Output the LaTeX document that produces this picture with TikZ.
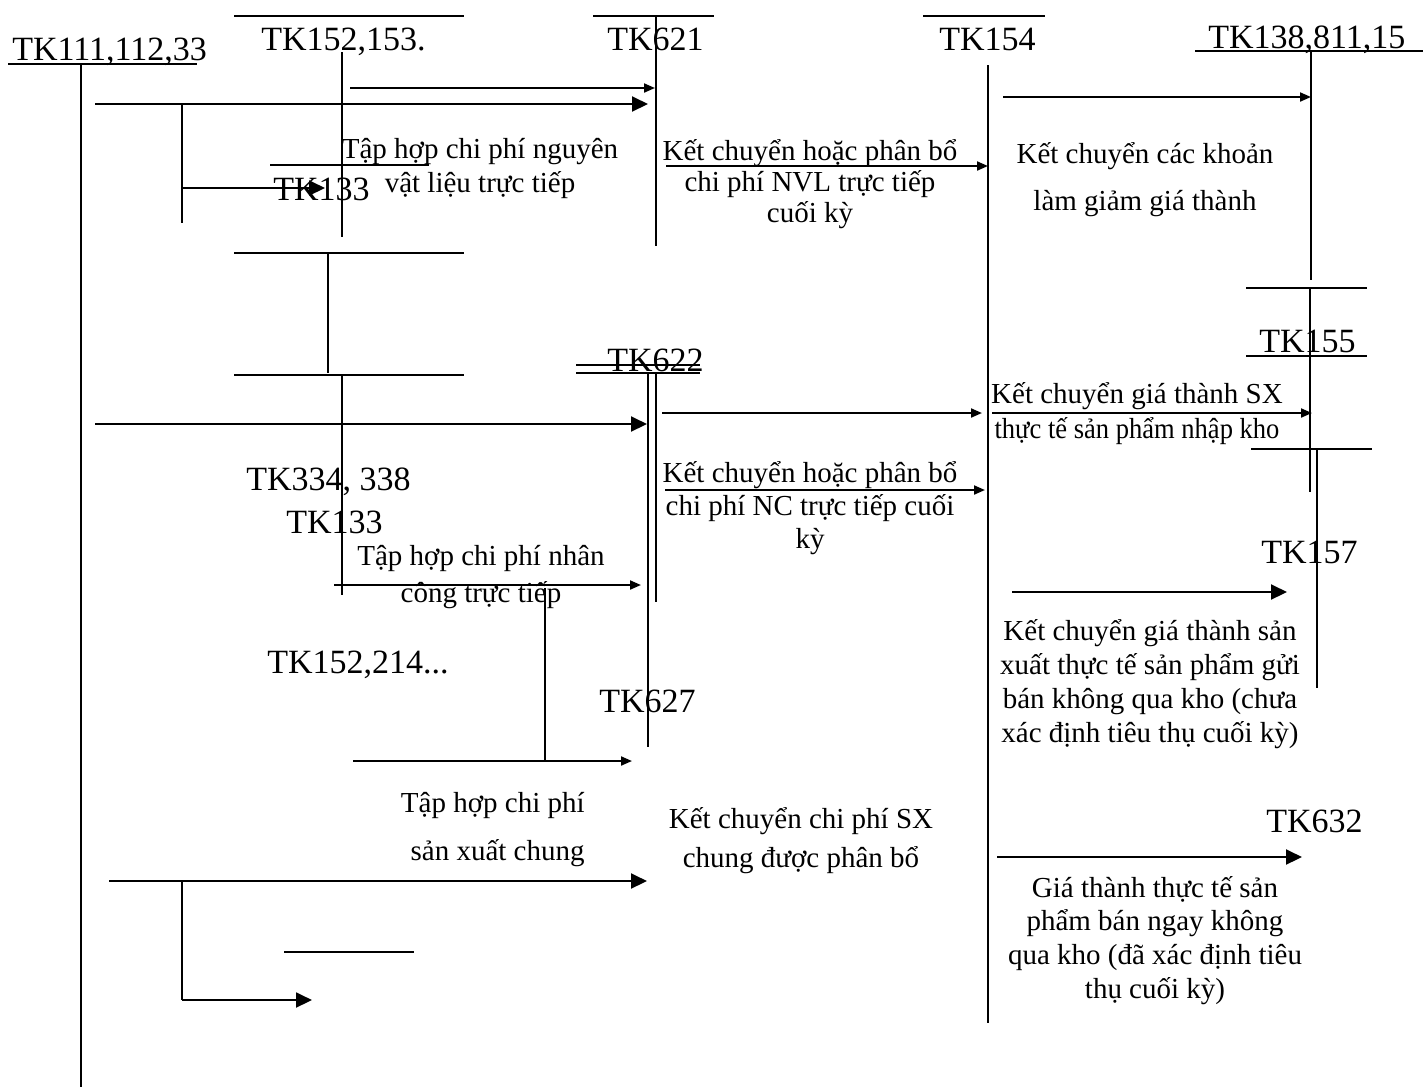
\documentclass[tikz,border=0pt]{standalone}
\usepackage{fontspec}
\usepackage{graphicx}
\setmainfont{Liberation Serif}
\usetikzlibrary{arrows.meta}

\begin{document}
\begin{tikzpicture}[
            x=0.5pt, y=-0.5pt,
            tline/.style={line width=1pt},
            big_arrow/.style={line width=1pt, -{Triangle[length=8pt, width=7.5pt]}},
            small_arrow/.style={line width=1pt, -{Triangle[length=5.5pt, width=4.5pt]}},
            tk_style/.style={font=\fontsize{17}{19}\selectfont, inner sep=0pt, anchor=base west},
            note_style/.style={font=\fontsize{14.5}{#1}\selectfont, align=center, inner sep=0pt, anchor=base},
            note_style/.default=17
        ]
        \useasboundingbox (0,0) rectangle (1423,1089);

        % Tên tài khoản
        \node (tk111) [tk_style] at (12,60) {TK111,112,33};
        \node (tk152) [tk_style] at (261,50) {TK152,153.};
        \node (tk621) [tk_style] at (607,50) {TK621};
        \node (tk154) [tk_style] at (939,50) {TK154};
        \node (tk138) [tk_style] at (1208,48) {TK138,811,15};
        \node (tk133a) [tk_style] at (273,200) {TK133};
        \node (tk155) [tk_style] at (1259,352) {TK155};
        \node (tk622) [tk_style] at (607,371) {TK622};
        \node (tk334) [tk_style] at (246,490) {TK334, 338};
        \node (tk133b) [tk_style] at (286,533) {TK133};
        \node (tk157) [tk_style] at (1261,563) {TK157};
        \node (tk152b) [tk_style] at (267,673) {TK152,214...};
        \node (tk627) [tk_style] at (599,712) {TK627};
        \node (tk632) [tk_style] at (1266,832) {TK632};

        % Chữ T của các tài khoản
        \draw [tline] (8,64) -- (197,64) (81,64) -- (81,1087);
        \draw [tline] (234,16) -- (464,16) (342,52) -- (342,237);
        \draw [tline] (593,16) -- (714,16) (656,16) -- (656,246);
        \draw [tline] (923,16) -- (1045,16) (988,65) -- (988,1023);
        \draw [tline] (1195,51) -- (1423,51) (1311,51) -- (1311,280);
        \draw [tline] (270,165) -- (429,165);
        \draw [tline] (234,253) -- (464,253) (328,253) -- (328,373);
        \draw [tline] (234,375) -- (464,375) (342,375) -- (342,595);
        \draw [tline] (576,365) -- (700,365) (576,373) -- (700,373);
        \draw [tline] (648,373) -- (648,747) (656,373) -- (656,602);
        \draw [tline] (1246,288) -- (1367,288) (1246,356) -- (1367,356) (1310,288) -- (1310,492);
        \draw [tline] (1251,449) -- (1372,449) (1317,449) -- (1317,688);
        \draw [tline] (545,588) -- (545,761);
        \draw [tline] (284,952) -- (414,952);
        \draw [tline] (182,104) -- (182,223);
        \draw [tline] (182,881) -- (182,1000);

        % Điểm đầu, điểm cuối các bút toán
        \coordinate (a1s) at (350,88);   \coordinate (a1e) at (655,88);
        \coordinate (a2s) at (95,104);   \coordinate (a2e) at (648,104);
        \coordinate (a3s) at (182,188);  \coordinate (a3e) at (325,188);
        \coordinate (a4s) at (1003,97);  \coordinate (a4e) at (1311,97);
        \coordinate (a5s) at (666,166);  \coordinate (a5e) at (988,166);
        \coordinate (a6s) at (95,424);   \coordinate (a6e) at (647,424);
        \coordinate (a7s) at (662,413);  \coordinate (a7e) at (982,413);
        \coordinate (a8s) at (992,413);  \coordinate (a8e) at (1312,413);
        \coordinate (a9s) at (665,490);  \coordinate (a9e) at (985,490);
        \coordinate (a10s) at (334,585); \coordinate (a10e) at (641,585);
        \coordinate (a11s) at (1012,592); \coordinate (a11e) at (1287,592);
        \coordinate (a12s) at (353,761); \coordinate (a12e) at (632,761);
        \coordinate (a13s) at (109,881); \coordinate (a13e) at (647,881);
        \coordinate (a14s) at (182,1000); \coordinate (a14e) at (312,1000);
        \coordinate (a15s) at (997,857); \coordinate (a15e) at (1302,857);

        % Bút toán
        \draw [small_arrow] (a1s) -- (a1e);
        \draw [big_arrow] (a2s) -- (a2e);
        \draw [big_arrow] (a3s) -- (a3e);
        \draw [small_arrow] (a4s) -- (a4e);
        \draw [small_arrow] (a5s) -- (a5e);
        \draw [big_arrow] (a6s) -- (a6e);
        \draw [small_arrow] (a7s) -- (a7e);
        \draw [small_arrow] (a8s) -- (a8e);
        \draw [small_arrow] (a9s) -- (a9e);
        \draw [small_arrow] (a10s) -- (a10e);
        \draw [big_arrow] (a11s) -- (a11e);
        \draw [small_arrow] (a12s) -- (a12e);
        \draw [big_arrow] (a13s) -- (a13e);
        \draw [big_arrow] (a14s) -- (a14e);
        \draw [big_arrow] (a15s) -- (a15e);

        % Diễn giải (toạ độ = dòng cuối)
        \node (nvl) [note_style] at (480,192) {Tập hợp chi phí nguyên\\vật liệu trực tiếp};
        \node (kcnvl) [note_style=15.5] at (810,222) {Kết chuyển hoặc phân bổ\\chi phí NVL trực tiếp\\cuối kỳ};
        \node (giam) [note_style=23.5] at (1145,210) {Kết chuyển các khoản\\làm giảm giá thành};
        \node (nhapkho) [note_style=17.5] at (1137,438) {Kết chuyển giá thành SX\\\scalebox{0.915}[1]{thực tế sản phẩm nhập kho}};
        \node (kcnc) [note_style=16.5] at (810,548) {Kết chuyển hoặc phân bổ\\chi phí NC trực tiếp cuối\\kỳ};
        \node (nc) [note_style=18.5] at (481,602) {Tập hợp chi phí nhân\\công trực tiếp};
        \node (guiban) [note_style] at (1150,742) {Kết chuyển giá thành sản\\xuất thực tế sản phẩm gửi\\bán không qua kho (chưa\\xác định tiêu thụ cuối kỳ)};
        \node (sxc) [note_style=24, align=right, anchor=base east] at (585,860) {Tập hợp chi phí\\sản xuất chung};
        \node (kcsxc) [note_style=19.5] at (801,867) {Kết chuyển chi phí SX\\chung được phân bổ};
        \node (banngay) [note_style=16.8] at (1155,998) {Giá thành thực tế sản\\phẩm bán ngay không\\qua kho (đã xác định tiêu\\thụ cuối kỳ)};

    \end{tikzpicture}
\end{document}
